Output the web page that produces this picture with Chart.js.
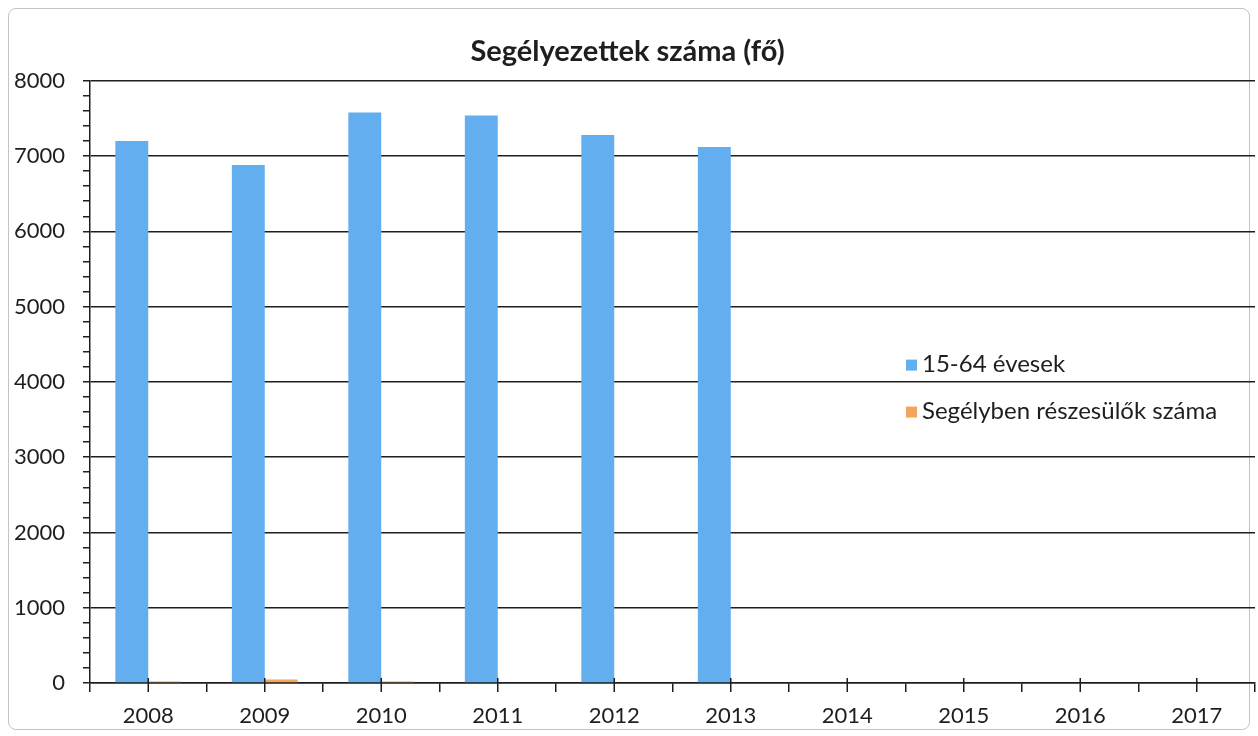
<!DOCTYPE html>
<html>
<head>
<meta charset="utf-8">
<script src="https://cdn.jsdelivr.net/npm/chart.js@4"></script>
<style>
  body { margin: 0; background: #fff; }
  #frame { position: absolute; left: 8px; top: 8px; width: 1240px; height: 720px; border: 1px solid #c4c4c4; border-radius: 8px; }
  #chart { position: absolute; left: 0; top: 0; }
</style>
</head>
<body>
<div id="frame"></div>
<canvas id="chart" width="1258" height="736"></canvas>
<script>
// adatok
const years = ["2008", "2009", "2010", "2011", "2012", "2013", "2014", "2015", "2016", "2017"];
const aged1564 = [7200, 6880, 7580, 7540, 7280, 7120, null, null, null, null];
const receiving = [20, 45, 20, 0, 0, 0, null, null, null, null];
const yTicks = [0, 1000, 2000, 3000, 4000, 5000, 6000, 7000, 8000];

const FONT = "Lato, 'Open Sans', sans-serif";
const INK = "#1e1e1e";

// jelmagyarázat a rajzterületen belül, jobb oldalon
const insideLegend = {
  id: "insideLegend",
  afterDraw(chart) {
    const c = chart.ctx;
    const y0 = chart.scales.y.getPixelForValue(4230);
    c.save();
    c.font = "24px " + FONT;
    c.textBaseline = "middle";
    chart.data.datasets.forEach((ds, i) => {
      const y = y0 + i * 47;
      c.fillStyle = ds.backgroundColor;
      c.fillRect(906, y - 5, 11, 11);
      c.fillStyle = INK;
      c.fillText(ds.label, 922, y);
    });
    c.restore();
  },
};

// osztásjelek a kategóriák közepén
const centerTicks = {
  id: "centerTicks",
  afterDraw(chart) {
    const x = chart.scales.x;
    const c = chart.ctx;
    c.save();
    c.strokeStyle = INK;
    c.lineWidth = 1.5;
    years.forEach((_, i) => {
      const px = x.getPixelForValue(i);
      c.beginPath();
      c.moveTo(px, x.top - 5);
      c.lineTo(px, x.top + 9);
      c.stroke();
    });
    c.restore();
  },
};

new Chart(document.getElementById("chart"), {
  type: "bar",
  data: {
    labels: years,
    datasets: [
      { label: "15-64 évesek", data: aged1564, backgroundColor: "#62AEEE" },
      { label: "Segélyben részesülők száma", data: receiving, backgroundColor: "#F2A55C" },
    ],
  },
  options: {
    responsive: false,
    animation: false,
    devicePixelRatio: 1,
    categoryPercentage: 0.565,
    barPercentage: 1,
    layout: { padding: { left: 0, right: 3, top: 0, bottom: 0 } },
    plugins: {
      legend: { display: false },
      tooltip: { enabled: false },
      title: {
        display: true,
        text: "Segélyezettek száma (fő)",
        color: INK,
        font: { family: FONT, size: 29, weight: "bold" },
        padding: { top: 34, bottom: 12 },
      },
    },
    scales: {
      x: {
        offset: true,
        afterFit: (scale) => { scale.height = 53; },
        grid: { drawOnChartArea: false, offset: true, tickLength: 9, color: INK, lineWidth: 1.5 },
        border: { color: INK, width: 1.5 },
        ticks: { color: INK, font: { family: FONT, size: 22 }, padding: 11 },
      },
      y: {
        min: 0,
        max: 8000,
        afterFit: (scale) => { scale.width = 90; },
        grid: {
          color: (ctx) => (ctx.tick && yTicks.includes(ctx.tick.value) ? INK : "rgba(0,0,0,0)"),
          tickColor: INK,
          lineWidth: 1.5,
          tickLength: 7,
        },
        border: { color: INK, width: 1.5 },
        ticks: {
          stepSize: 200,
          maxTicksLimit: 100,
          autoSkip: false,
          color: INK,
          font: { family: FONT, size: 22 },
          padding: 18,
          callback: (v) => (yTicks.includes(v) ? String(v) : ""),
        },
      },
    },
  },
  plugins: [insideLegend, centerTicks],
});
</script>
</body>
</html>
